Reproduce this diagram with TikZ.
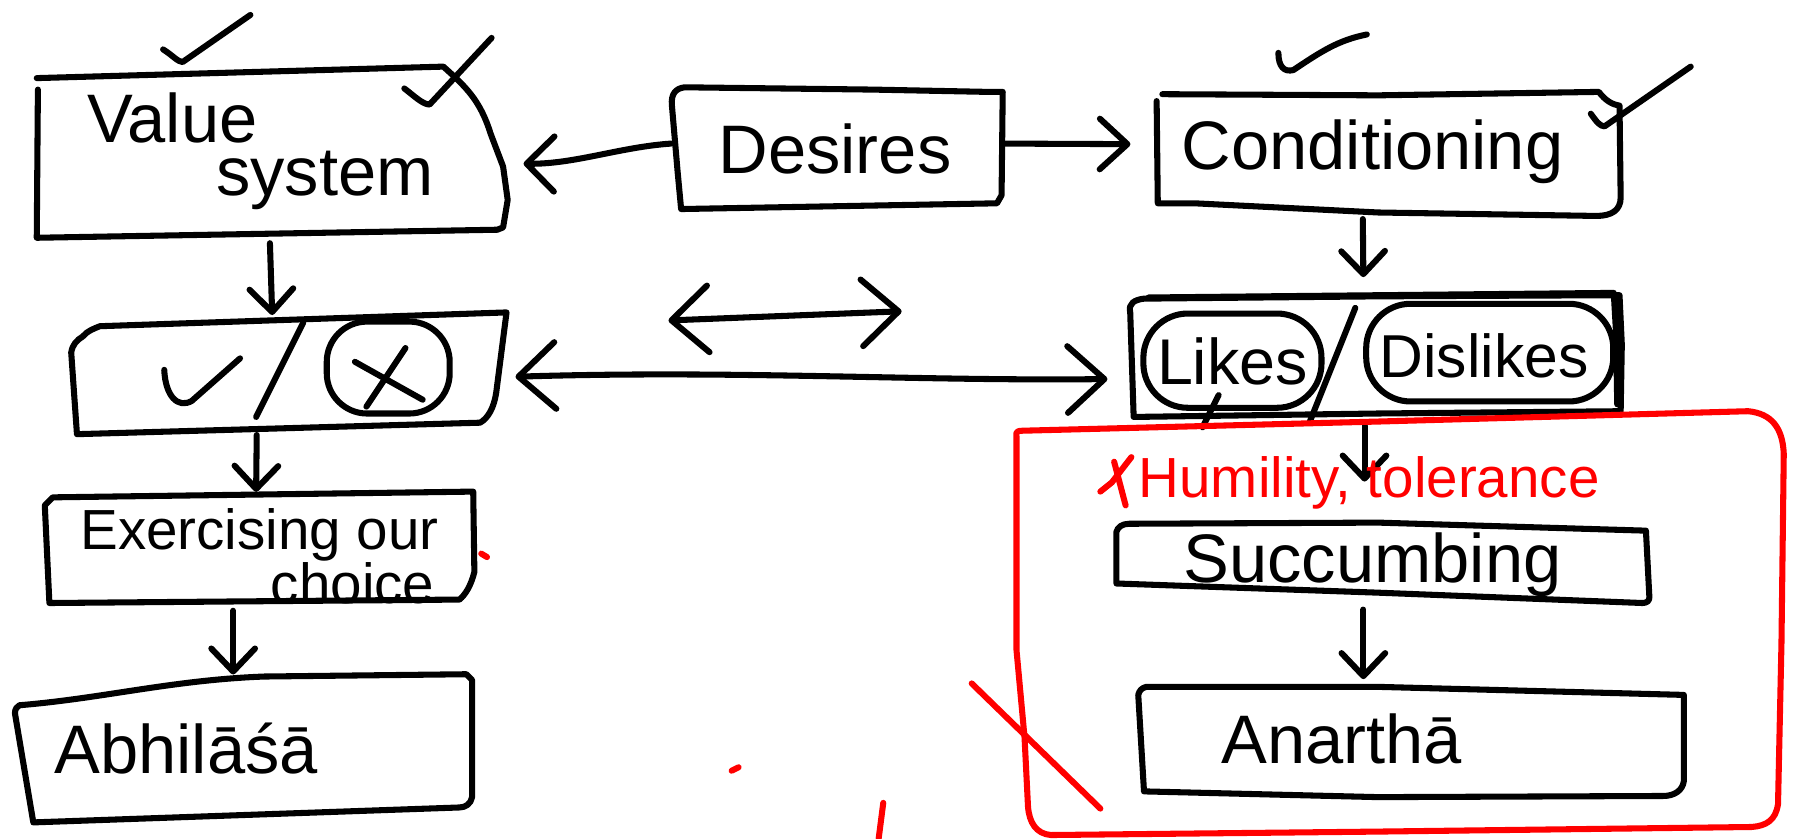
\documentclass[tikz,border=0pt]{standalone}
\usepackage{fontspec}
\setmainfont{Liberation Sans}
\usetikzlibrary{arrows.meta,calc}

\begin{document}
\begin{tikzpicture}[x=0.01cm,y=-0.01cm,
  ink/.style={line width=1.5pt,line cap=round,line join=round},
  redink/.style={ink,draw=red},
  slot/.style={draw=none,inner sep=0pt},
  conn/.style={ink,-{Straight Barb[length=2mm,width=3.8mm,round]}},
  twoway/.style={ink,{Straight Barb[length=3.2mm,width=5.8mm,round]}-{Straight Barb[length=3.2mm,width=5.8mm,round]}},
  word/.style={inner sep=0pt,font=\fontsize{17}{20}\selectfont},
  smallword/.style={inner sep=0pt,font=\fontsize{14}{16}\selectfont},
  pill/.style={ink,draw,rounded corners=11pt,inner sep=0pt}]

\useasboundingbox (0,0) rectangle (1568,730);

% ---------- box frames (named areas) ----------
\node[slot,minimum width=4.1cm,minimum height=1.4cm]   (val)  at (237,137) {};
\node[slot,minimum width=2.9cm,minimum height=1.0cm]   (des)  at (728,128) {};
\node[slot,minimum width=4.05cm,minimum height=1.05cm] (cond) at (1207.5,132.5) {};
\node[slot,minimum width=4.3cm,minimum height=1.05cm]  (lk)   at (1197,310.5) {};
\node[slot,minimum width=3.75cm,minimum height=1.0cm]  (cx)   at (252.5,325) {};
\node[slot,minimum width=3.72cm,minimum height=0.93cm] (ex)   at (226,479.5) {};
\node[slot,minimum width=3.98cm,minimum height=1.25cm] (abh)  at (212,652.5) {};
\node[slot,minimum width=4.62cm,minimum height=0.68cm] (suc)  at (1203,490) {};
\node[slot,minimum width=4.75cm,minimum height=0.96cm] (ana)  at (1228.5,646) {};

% ---------- hand-drawn outlines ----------
% Value system
\draw[ink] (32,68) -- (386,58) .. controls (405,75) and (418,87) .. (427,116)
  -- (438,145) -- (442,174) -- (438,198) -- (433,200) -- (32,207) -- (33,78);
% Desires
\draw[ink] (585,92) .. controls (584,82) and (588,77) .. (596,76) -- (760,78)
  -- (860,80) -- (873,80) -- (872,170) -- (868,177) -- (593,182) -- (590,150) -- (585,92);
% Conditioning
\draw[ink] (1012,82) -- (1200,83) -- (1392,80) .. controls (1398,88) and (1404,91) .. (1410,92)
  -- (1411,172) .. controls (1411,183) and (1403,188) .. (1390,188)
  -- (1200,185) -- (1040,177) -- (1008,177) -- (1007,88);
% Likes / Dislikes (traced twice)
\draw[ink] (984,272) .. controls (982,264) and (988,261) .. (996,260) -- (1200,258) -- (1410,257)
  -- (1412,300) -- (1411,358) -- (1200,360) -- (987,363) -- (984,272);
\draw[ink] (1000,259) -- (1405,255) -- (1407,290) -- (1408,352);
\node[pill,minimum width=1.55cm,minimum height=0.82cm] (likes) at (1073,314) {};
\node[pill,minimum width=2.15cm,minimum height=0.85cm] (dislikes) at (1297,307) {};
\draw[ink] (1180,268) -- (1140,368);
\draw[ink] (1061,344) -- (1047,372);
% tick / cross box
\draw[ink] (72,293) .. controls (76,288) and (82,286) .. (87,284) -- (441,272)
  -- (432,342) .. controls (430,355) and (425,364) .. (418,368) -- (67,378) -- (62,307)
  .. controls (63,300) and (67,296) .. (72,293);
\draw[ink] (143,322) .. controls (144,345) and (155,356) .. (167,349) -- (209,312);
\draw[ink] (264,281) -- (223,363);
\node[ink,draw,rounded corners=10pt,minimum width=1.07cm,minimum height=0.8cm] (nope) at (338,320) {};
\draw[ink] (309,315) -- (368,348);
\draw[ink] (353,303) -- (319,354);
% Exercising our choice
\draw[ink] (39,440) -- (46,433) -- (412,428) -- (413,498) .. controls (410,510) and (405,518) .. (400,522)
  -- (43,525) -- (39,440);
% Abhilasa
\draw[ink] (13,621) .. controls (13,617) and (15,615) .. (17,614)
  .. controls (90,608) and (150,592) .. (230,589) -- (406,587)
  -- (411,592) -- (411,694) .. controls (410,700) and (405,703) .. (400,703) -- (29,716) -- (13,621);
% Succumbing
\draw[ink] (972,508) -- (972,463) .. controls (973,459) and (977,456) .. (983,456) -- (1200,455)
  -- (1433,462) -- (1436,520) .. controls (1436,523) and (1434,525) .. (1430,525)
  -- (1200,516) -- (972,508);
% Anartha
\draw[ink] (991,605) .. controls (992,601) and (994,599) .. (998,598) -- (1200,598) -- (1466,605)
  -- (1466,680) .. controls (1465,688) and (1458,693) .. (1448,693) -- (1200,694) -- (996,689) -- (991,605);

% ---------- check marks ----------
\draw[ink] (142,43) .. controls (150,48) and (155,54) .. (159,54) -- (218,13);
\draw[ink] (352,77) .. controls (360,83) and (368,91) .. (374,91) -- (428,33);
\draw[ink] (1113,46) .. controls (1113,58) and (1118,63) .. (1126,61) .. controls (1150,45) and (1165,35) .. (1190,30);
\draw[ink] (1385,99) .. controls (1390,106) and (1393,110) .. (1397,110) -- (1472,58);

% ---------- words ----------
\node[word] (tValue)  at (150,103) {Value};
\node[word] (tSystem) at (283,157) {system};
\node[word] (tDes)    at (727,130) {Desires};
\node[word] (tCond)   at (1195,132) {Conditioning};
\node[inner sep=0pt,font=\fontsize{16}{18}\selectfont] (tLikes) at (1073,315) {Likes};
\node[inner sep=0pt,font=\fontsize{15}{18}\selectfont] (tDis)   at (1292,310) {Dislikes};
\node[smallword] (tEx)  at (226,466) {Exercising our};
\node[smallword] (tCh)  at (307,508) {choice};
\node[word] (tAbh)  at (162,652) {Abhilāśā};
\node[word] (tSuc)  at (1195,492) {Succumbing};
\node[word] (tAna)  at (1168,643) {Anarthā};

% ---------- connectors ----------
\draw[conn] ($(val.south)+(-2,4)$) -- ($(cx.north)+(-15.5,0)$);
\draw[conn] ($(cx.south)+(-29,3)$) -- ($(ex.north)+(-3,-4)$);
\draw[conn] ($(ex.south)+(-23,5)$) -- ($(abh.north)+(-9,-2)$);
\draw[ink,-{Straight Barb[length=2.4mm,width=4.8mm,round]}] ($(des.west)+(2,-3)$) .. controls (540,128) and (500,143) .. ($(val.east)+(13,5.5)$);
\draw[ink,-{Straight Barb[length=2.4mm,width=4.4mm,round]}] ($(des.east)+(0,-3)$) -- ($(cond.west)+(-20,-7)$);
\draw[conn] ($(cond.south)+(-21,5)$) -- ($(lk.north)+(-10,-16)$);
\draw[conn] ($(lk.south)+(-9,7)$) -- ($(suc.north)+(-15,-36)$);
\draw[conn] ($(suc.south)+(-16,6)$) -- ($(ana.north)+(-41.5,-6)$);
\draw[twoway] ($(cx.east)+(8,3)$) .. controls (640,322) and (800,332) .. ($(lk.west)+(-17,19.5)$);
\coordinate (freeL) at (582,279);
\coordinate (freeR) at (785,271);
\draw[twoway] (freeL) -- (freeR);

% ---------- red annotations ----------
\draw[redink] (885,380) .. controls (884,376) and (886,375) .. (890,375) -- (1200,367) -- (1522,358)
  .. controls (1542,360) and (1552,372) .. (1553,395) -- (1551,560) -- (1548,700)
  .. controls (1546,714) and (1538,719) .. (1525,720) -- (1200,724) -- (915,727)
  .. controls (902,726) and (896,716) .. (895,702) -- (892,642) -- (885,566) -- (885,380);
\node[inner sep=0pt,text=red,font=\fontsize{14}{16}\selectfont] (hum) at (1192,420) {Humility, tolerance};
\draw[redink] (958,428) -- (968,420) -- (985,398);
\draw[redink] (970,402) -- (980,440);
\draw[redink] (846,595) -- (958,704);
\draw[redink] (769,699) -- (765,730);
\draw[redink] (637,671) -- (643,668);
\draw[redink] (419,482) -- (424,485);
\end{tikzpicture}
\end{document}
